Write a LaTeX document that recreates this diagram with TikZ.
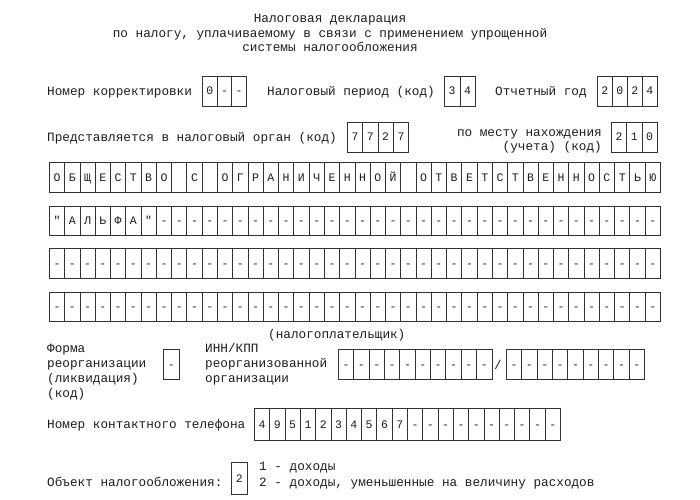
\documentclass[tikz,border=0pt]{standalone}
\usepackage{fontspec}
\setmonofont{Liberation Mono}
\definecolor{txt}{HTML}{1E1E1E}
\definecolor{ln}{HTML}{333333}
\newcommand\lbfont{\ttfamily\fontsize{12.7}{15}\selectfont}
\newcommand\cellfont{\ttfamily\fontsize{11.5}{13}\selectfont}
\tikzset{
  lbl/.style={inner sep=0, font=\lbfont, text=txt},
  cell/.style={draw=ln, line width=0.8pt, inner sep=0, font=\cellfont, text=txt, anchor=west, text height=7.2pt, text depth=0pt}
}
\newcommand\fcells[6]{\foreach \ch [count=\i] in {#6}{\node[cell,minimum width=#4pt,minimum height=#5pt] (#1\i) at ({#2+(\i-1)*#4},#3) {\ch};}}
\newcommand\fdashes[7]{\foreach \i in {#6,...,#7}{\node[cell,minimum width=#4pt,minimum height=#5pt] (#1\i) at ({#2+(\i-1)*#4},#3) {-};}}
\begin{document}
\begin{tikzpicture}[x=1pt,y=-1pt]
\useasboundingbox (0,0) rectangle (700,499);
\fill[white] (0,0) rectangle (700,499);
% title
\node[lbl,anchor=base] (t1) at (330,22) {Налоговая декларация};
\node[lbl,anchor=base] (t2) at (330,37) {по налогу, уплачиваемому в связи с применением упрощенной};
\node[lbl,anchor=base] (t3) at (330,51) {системы налогообложения};
% row A
\node[lbl,anchor=base west] (lA1) at (47,95) {Номер корректировки};
\fcells{corr}{202}{91}{14.7}{30}{0,-,-}
\node[lbl,anchor=base west] (lA2) at (267,95) {Налоговый период (код)};
\fcells{per}{444}{91}{15.5}{30}{3,4}
\node[lbl,anchor=base west] (lA3) at (495,95) {Отчетный год};
\fcells{year}{597}{91}{15}{30}{2,0,2,4}
% row B
\node[lbl,anchor=base west] (lB1) at (47,141) {Представляется в налоговый орган (код)};
\fcells{org}{347}{137}{15.3}{30}{7,7,2,7}
\node[lbl,anchor=base east] (lB2) at (602,136) {по месту нахождения};
\node[lbl,anchor=base east] (lB3) at (602,150) {(учета) (код)};
\fcells{loc}{611}{137}{15.3}{30}{2,1,0}
% name rows
\fcells{ra}{49}{177.5}{15.275}{29.5}{О,Б,Щ,Е,С,Т,В,О,{},С,{},О,Г,Р,А,Н,И,Ч,Е,Н,Н,О,Й,{},О,Т,В,Е,Т,С,Т,В,Е,Н,Н,О,С,Т,Ь,Ю}
\fcells{rb}{49}{221}{15.275}{29.5}{",А,Л,Ь,Ф,А,"}
\fdashes{rb}{49}{221}{15.275}{29.5}{8}{40}
\fdashes{rc}{49}{263.5}{15.275}{29.5}{1}{40}
\fdashes{rd}{49}{307}{15.275}{29.5}{1}{40}
\node[lbl,anchor=base west] (tp) at (268,338) {(налогоплательщик)};
% reorganisation
\node[lbl,anchor=base west] (f1) at (47,352) {Форма};
\node[lbl,anchor=base west] (f2) at (47,367) {реорганизации};
\node[lbl,anchor=base west] (f3) at (47,382) {(ликвидация)};
\node[lbl,anchor=base west] (f4) at (47,397) {(код)};
\fcells{fr}{163}{364.5}{16}{30}{-}
\node[lbl,anchor=base west] (i1) at (205,352) {ИНН/КПП};
\node[lbl,anchor=base west] (i2) at (205,367) {реорганизованной};
\node[lbl,anchor=base west] (i3) at (205,382) {организации};
\fdashes{inn}{338}{364.5}{15.35}{30.5}{1}{10}
\node[lbl,anchor=base] (sl) at (498,369) {/};
\fdashes{kpp}{506}{364.5}{15.35}{30.5}{1}{9}
% phone
\node[lbl,anchor=base west] (ph) at (47,428) {Номер контактного телефона};
\fcells{tel}{254}{424.5}{15.3}{32}{4,9,5,1,2,3,4,5,6,7}
\fdashes{tel}{254}{424.5}{15.3}{32}{11}{20}
% object
\node[lbl,anchor=base west] (ob) at (47,486) {Объект налогообложения:};
\fcells{obj}{231}{478.5}{16}{32}{2}
\node[lbl,anchor=base west] (o1) at (259,470) {1 - доходы};
\node[lbl,anchor=base west] (o2) at (259,486) {2 - доходы, уменьшенные на величину расходов};
\end{tikzpicture}
\end{document}
